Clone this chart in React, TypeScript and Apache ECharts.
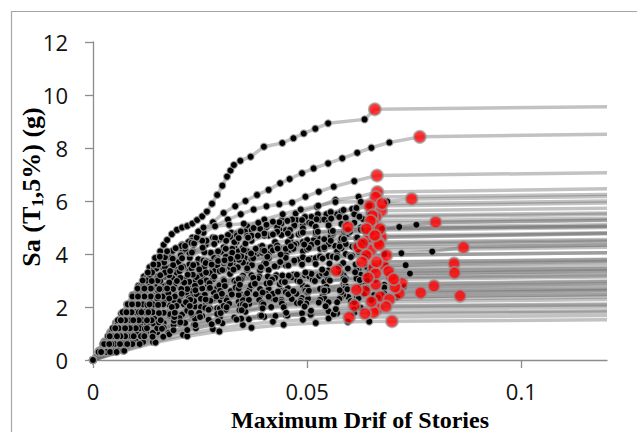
import React, { useEffect, useRef } from "react";
import * as echarts from "echarts";

// Each record: [maximum drift of stories (x1000), Sa(T1,5%) in g].
// Second-to-last point = collapse (red marker); last point = flat-line end.
const rec01 = [[0,0],[1.3,0.35],[2.6,0.7],[4,1.05],[5.3,1.4],[6.6,1.75],[7.9,2.1],[9.2,2.45],[10.6,2.8],[11.9,3.15],[13.2,3.5],[14.5,3.85],[15.7,4.1],[16.5,4.35],[17.3,4.53],[18.4,4.75],[19.6,4.91],[20.8,5.0],[22,5.06],[23.2,5.15],[24.3,5.28],[25.5,5.42],[26.6,5.6],[27.8,5.9],[29,6.23],[30.2,6.58],[31.3,6.92],[32.1,7.15],[32.9,7.36],[34.4,7.52],[36.8,7.67],[39.9,8.05],[44.2,8.19],[46.8,8.37],[49.2,8.55],[51.9,8.73],[54.9,8.93],[63.4,9.08],[65.8,9.46],[120,9.56]];
const rec02 = [[0,0],[1.4,0.35],[2.8,0.7],[4.2,1.05],[5.6,1.4],[7,1.75],[8.4,2.1],[9.8,2.45],[11.2,2.8],[12.7,3.15],[14.2,3.45],[16,3.75],[18.3,4.05],[20.8,4.35],[23.2,4.62],[25.6,4.9],[28,5.2],[30.5,5.55],[33.2,5.8],[35.6,6.0],[38.3,6.23],[41,6.42],[43.7,6.67],[45.9,6.83],[48.8,7.05],[51.5,7.23],[54.9,7.42],[58.2,7.61],[61.7,7.82],[65,8.01],[69.2,8.21],[76.3,8.42],[120,8.52]];
const rec03 = [[0,0],[1.6,0.35],[3.2,0.7],[4.8,1.05],[6.4,1.4],[8,1.75],[9.6,2.1],[11.2,2.45],[12.8,2.8],[14.5,3.15],[16.3,3.5],[18.2,3.85],[20.5,4.2],[23,4.5],[25.8,4.8],[28.5,5.05],[31.5,5.3],[34.5,5.5],[37.5,5.68],[40.5,5.8],[43.5,5.88],[46.5,5.94],[49.6,6.16],[52.7,6.35],[56.2,6.54],[61,6.75],[66.3,6.96],[120,7.07]];
const rec04 = [[0,0],[1.7,0.35],[3.4,0.7],[5.1,1.05],[6.8,1.4],[8.5,1.75],[10.2,2.1],[12,2.45],[13.8,2.8],[15.8,3.15],[18,3.5],[20.5,3.82],[23.3,4.1],[26.3,4.35],[29.5,4.55],[33,4.7],[36.5,4.82],[40.2,4.98],[44.1,5.28],[47.3,5.53],[52.3,5.78],[56.6,6.04],[62,6.16],[66.4,6.34],[120,6.46]];
const rec05 = [[0,0],[1.9,0.35],[3.8,0.7],[5.7,1.05],[7.6,1.4],[9.6,1.75],[11.6,2.1],[13.8,2.45],[16.2,2.8],[19,3.15],[22,3.45],[25.5,3.75],[29,4.0],[33,4.25],[37,4.5],[41,4.7],[45,4.9],[49,5.1],[53,5.3],[57,5.5],[60.5,5.7],[62.5,5.95],[66,6.15],[120,6.25]];
const rec06 = [[0,0],[1.8,0.35],[3.6,0.7],[5.4,1.05],[7.2,1.4],[9,1.75],[10.9,2.1],[12.9,2.45],[15,2.8],[17.3,3.15],[19.8,3.5],[22.6,3.85],[25.6,4.2],[28.8,4.5],[32.3,4.8],[36,5.05],[40,5.3],[44.3,5.5],[48.5,5.68],[52.6,5.82],[56.6,5.96],[62.5,5.97],[68.7,5.98],[74.4,6.08],[120,6.17]];
const rec07 = [[0,0],[1.7,0.35],[3.3,0.7],[5,1.05],[6.7,1.4],[8.3,1.75],[10,2.1],[11.7,2.45],[13.3,2.8],[15,3.15],[16.8,3.5],[18.8,3.8],[21,4.1],[23.5,4.35],[26.5,4.5],[30,4.62],[33.5,4.75],[37,4.9],[40.5,5.02],[44,5.15],[47.5,5.28],[51,5.4],[54.5,5.5],[58,5.6],[61.5,5.7],[64.6,5.81],[120,5.92]];
const rec08 = [[0,0],[2.1,0.35],[4.1,0.7],[6.2,1.05],[8.2,1.4],[10.3,1.75],[12.4,2.1],[14.5,2.45],[16.8,2.8],[19.2,3.15],[21.8,3.5],[24.6,3.8],[27.5,4.05],[30.5,4.25],[33.5,4.45],[36.5,4.62],[40,4.78],[43.5,4.92],[47,5.05],[50.5,5.18],[54,5.3],[57.5,5.4],[61,5.5],[64.5,5.56],[67.3,5.63],[120,5.73]];
const rec09 = [[0,0],[1.8,0.35],[3.5,0.7],[5.3,1.05],[7,1.4],[8.8,1.75],[10.6,2.1],[12.5,2.45],[14.5,2.8],[16.8,3.15],[19.5,3.4],[22.5,3.6],[25.8,3.75],[29,3.85],[31.8,3.95],[32.5,4.2],[33,4.45],[33.6,4.7],[35.5,4.85],[39,4.95],[43,5.02],[47,5.08],[51,5.14],[55,5.2],[59,5.26],[63,5.32],[66,5.4],[120,5.5]];
const rec10 = [[0,0],[2.3,0.35],[4.7,0.7],[7,1.05],[9.3,1.4],[11.7,1.75],[14,2.1],[16.5,2.45],[19.2,2.8],[22,3.1],[25,3.35],[28.2,3.55],[31.5,3.72],[35,3.88],[38.5,4.02],[42,4.15],[45.5,4.3],[49,4.45],[52.5,4.6],[56,4.75],[59.5,4.88],[62.5,5.0],[65.4,5.16],[120,5.26]];
const rec11 = [[0,0],[2.5,0.35],[5,0.7],[7.5,1.05],[10,1.4],[12.5,1.75],[15.2,2.1],[18,2.45],[21,2.8],[24.3,3.1],[27.8,3.38],[31.5,3.62],[35.5,3.85],[39.5,4.05],[43.5,4.22],[47.5,4.38],[51.5,4.52],[55.5,4.65],[59.5,4.76],[63.5,4.86],[67.5,4.95],[71.5,5.02],[75.5,5.1],[80,5.2],[120,5.28]];
const rec12 = [[0,0],[2.7,0.35],[5.4,0.7],[8.1,1.05],[10.8,1.4],[13.5,1.75],[16.3,2.1],[19.2,2.45],[22.3,2.8],[25.6,3.1],[29.2,3.35],[33,3.55],[37,3.72],[41,3.87],[45,4.0],[49,4.1],[53,4.2],[56.5,4.3],[57.9,4.46],[58.3,4.65],[58.7,4.84],[59.5,5.02],[120,5.1]];
const rec13 = [[0,0],[2.9,0.35],[5.8,0.7],[8.8,1.05],[11.7,1.4],[14.6,1.75],[17.6,2.1],[20.8,2.45],[24.2,2.78],[28,3.05],[32,3.25],[36,3.4],[39.5,3.5],[40.5,3.75],[41,4.0],[41.5,4.25],[42.5,4.45],[46,4.5],[50,4.53],[54,4.56],[58,4.58],[61.5,4.6],[64.6,4.63],[120,4.76]];
const rec14 = [[0,0],[3.5,0.35],[7,0.7],[10.5,1.05],[14,1.4],[17.5,1.75],[21.2,2.1],[25,2.42],[29,2.72],[33,2.98],[37,3.2],[41,3.4],[45,3.58],[49,3.75],[53,3.92],[57,4.1],[60.5,4.28],[64,4.45],[67.3,4.63],[120,4.78]];
const rec15 = [[0,0],[1.9,0.35],[3.9,0.7],[5.8,1.05],[7.8,1.4],[9.7,1.75],[11.7,2.1],[13.8,2.45],[16,2.8],[18.5,3.1],[19.5,3.4],[20,3.7],[20.5,3.95],[22.5,4.05],[26,4.07],[30,4.09],[34,4.1],[38,4.12],[42,4.14],[46,4.16],[50,4.18],[54,4.2],[58,4.22],[62,4.25],[120,4.34]];
const rec16 = [[0,0],[3.2,0.35],[6.4,0.7],[9.5,1.05],[12.7,1.4],[16,1.75],[19.5,2.1],[23.2,2.42],[27,2.7],[31,2.95],[35,3.18],[39,3.38],[43,3.55],[47,3.7],[51,3.82],[55,3.92],[59,4.0],[62,4.08],[64.9,4.15],[120,4.25]];
const rec17 = [[0,0],[2.2,0.35],[4.4,0.7],[6.6,1.05],[8.8,1.4],[11,1.75],[13.3,2.1],[15.8,2.45],[18.5,2.78],[21.5,3.05],[25,3.25],[28.5,3.4],[32,3.5],[36,3.58],[40,3.65],[44,3.72],[48,3.78],[52,3.84],[56,3.9],[60,3.94],[64,3.97],[68,4.0],[72,4.03],[79.2,4.09],[86.5,4.25],[120,4.33]];
const rec18 = [[0,0],[3.9,0.35],[7.8,0.7],[11.7,1.05],[15.6,1.4],[19.6,1.72],[23.8,2.02],[28,2.3],[32.5,2.55],[37,2.78],[41.5,2.98],[46,3.15],[50.5,3.28],[55,3.38],[59.5,3.45],[64,3.5],[68.5,3.55],[73,3.58],[84.3,3.64],[120,3.72]];
const rec19 = [[0,0],[4.7,0.35],[9.3,0.7],[14,1.05],[18.8,1.38],[23.8,1.68],[29,1.95],[34,2.2],[39,2.42],[44,2.62],[49,2.8],[54,2.95],[59,3.07],[64,3.16],[69,3.22],[74,3.26],[84.4,3.29],[120,3.38]];
const rec20 = [[0,0],[2.7,0.35],[5.4,0.7],[8.1,1.05],[10.8,1.4],[13.5,1.75],[16.4,2.08],[19.5,2.38],[23,2.62],[26.8,2.82],[30.8,2.98],[34.8,3.08],[38.8,3.15],[42.8,3.2],[46.8,3.22],[50.8,3.25],[54,3.3],[56.8,3.37],[120,3.45]];
const rec21 = [[0,0],[4.1,0.35],[8.2,0.7],[12.4,1.05],[16.5,1.4],[20.8,1.72],[25.2,2.0],[29.8,2.25],[34.4,2.48],[39,2.68],[43.6,2.86],[48.2,3.02],[52.8,3.17],[57.4,3.3],[62,3.42],[65,3.5],[67.8,3.58],[120,3.68]];
const rec22 = [[0,0],[2.5,0.35],[5,0.7],[7.5,1.05],[10,1.4],[12.6,1.75],[15.3,2.08],[18.3,2.35],[21.8,2.55],[25.5,2.7],[29.5,2.82],[33.5,2.92],[37.5,3.0],[41.5,3.08],[45.5,3.14],[49.5,3.2],[53.5,3.26],[57.5,3.32],[61.5,3.4],[65.5,3.47],[120,3.56]];
const rec23 = [[0,0],[5,0.35],[10,0.7],[15,1.05],[20.2,1.38],[25.5,1.66],[31,1.9],[36.5,2.12],[42,2.32],[47.5,2.5],[53,2.68],[58.5,2.85],[64,3.0],[69.6,3.15],[120,3.25]];
const rec24 = [[0,0],[1.8,0.35],[3.7,0.7],[5.5,1.05],[7.4,1.4],[9.3,1.75],[11.3,2.1],[13.5,2.42],[16,2.68],[19,2.85],[22.5,2.95],[26.5,3.0],[30.5,3.03],[34.5,3.05],[38.5,3.08],[42.5,3.1],[46.5,3.12],[50.5,3.15],[54.5,3.17],[58.5,3.2],[62.5,3.22],[66,3.26],[120,3.33]];
const rec25 = [[0,0],[3.5,0.35],[7,0.7],[10.5,1.05],[14.1,1.38],[17.9,1.68],[22,1.92],[26.4,2.12],[31,2.28],[35.6,2.42],[40.2,2.52],[44.8,2.6],[49.4,2.66],[54,2.72],[58.6,2.77],[62.5,2.81],[66,2.85],[120,2.95]];
const rec26 = [[0,0],[2.2,0.35],[4.4,0.7],[6.6,1.05],[8.8,1.4],[11.1,1.72],[13.7,2.0],[16.8,2.22],[20.3,2.38],[24.2,2.48],[28.2,2.55],[32.2,2.6],[36.5,2.64],[41,2.68],[45.5,2.71],[50,2.74],[54.5,2.76],[59,2.79],[63.5,2.81],[68,2.84],[72.1,2.89],[120,2.98]];
const rec27 = [[0,0],[5.8,0.35],[11.7,0.7],[17.6,1.03],[23.6,1.33],[29.6,1.6],[35.6,1.82],[41.6,2.0],[47.6,2.15],[53.6,2.28],[59.6,2.38],[65.6,2.45],[71.5,2.52],[120,2.6]];
const rec28 = [[0,0],[2.9,0.35],[5.8,0.7],[8.8,1.05],[11.8,1.38],[15,1.66],[18.6,1.9],[22.5,2.08],[26.8,2.22],[31.2,2.33],[35.8,2.42],[40.4,2.5],[45,2.56],[49.6,2.61],[54.2,2.65],[58.8,2.69],[63.4,2.72],[68,2.74],[72.6,2.76],[79.6,2.79],[120,2.88]];
const rec29 = [[0,0],[3.9,0.35],[7.8,0.7],[11.7,1.04],[15.8,1.33],[20.2,1.58],[24.8,1.78],[29.6,1.94],[34.4,2.07],[39.2,2.18],[44,2.27],[48.8,2.34],[53.6,2.4],[58.4,2.45],[63.2,2.48],[68,2.51],[76.5,2.54],[120,2.62]];
const rec30 = [[0,0],[1.8,0.35],[3.5,0.7],[5.3,1.05],[7,1.4],[8.9,1.73],[11,2.0],[13.6,2.15],[16.6,2.2],[20,2.22],[23.6,2.23],[27.4,2.24],[31.2,2.25],[35,2.26],[38.8,2.27],[42.6,2.28],[46.4,2.3],[50.2,2.31],[54,2.33],[57.8,2.34],[61.6,2.36],[67.1,2.39],[120,2.46]];
const rec31 = [[0,0],[4.7,0.35],[9.3,0.7],[14,1.03],[18.8,1.32],[23.8,1.56],[29,1.74],[34.2,1.88],[39.4,1.98],[44.6,2.06],[49.8,2.13],[55,2.18],[60.2,2.22],[65,2.26],[69.2,2.29],[120,2.38]];
const rec32 = [[0,0],[2.7,0.35],[5.4,0.7],[8.1,1.04],[11,1.33],[14.3,1.56],[18,1.73],[22,1.86],[26.2,1.96],[30.5,2.04],[35,2.1],[39.5,2.15],[44,2.2],[48.5,2.24],[53,2.27],[57.5,2.3],[62,2.33],[66.5,2.35],[71,2.37],[85.7,2.42],[120,2.48]];
const rec33 = [[0,0],[5.8,0.35],[11.7,0.68],[17.8,0.97],[24,1.2],[30.2,1.39],[36.4,1.54],[42.6,1.66],[48.8,1.76],[55,1.84],[61,1.9],[66.4,1.94],[120,2.0]];
const rec34 = [[0,0],[7,0.35],[14,0.68],[21,0.95],[28,1.16],[35,1.32],[42,1.44],[49,1.52],[55,1.57],[59.8,1.61],[120,1.68]];
const rec35 = [[0,0],[7.3,0.35],[14.6,0.66],[22,0.9],[29.5,1.08],[37,1.22],[44.5,1.33],[52,1.4],[59.5,1.44],[64.5,1.45],[69.8,1.46],[120,1.52]];
const rec36 = [[0,0],[1.5,0.35],[2.9,0.7],[4.4,1.05],[5.8,1.4],[7.3,1.75],[8.8,2.1],[10.2,2.45],[11.7,2.8],[13.2,3.15],[14.8,3.45],[16.6,3.68],[18.6,3.82],[20.5,3.95],[21.5,4.2],[22.3,4.45],[24.5,4.58],[28,4.62],[32,4.65],[36,4.68],[40,4.7],[44,4.72],[48,4.74],[52,4.76],[56,4.8],[60,4.84],[65,4.9],[120,5.0]];
const rec37 = [[0,0],[1.6,0.35],[3.2,0.7],[4.8,1.05],[6.4,1.4],[8,1.75],[9.6,2.1],[11.2,2.45],[12.9,2.78],[14.8,3.05],[17,3.22],[19.5,3.3],[22.5,3.35],[25.5,3.42],[27.5,3.6],[28.3,3.85],[29.2,4.1],[31,4.2],[35,4.23],[39,4.26],[43,4.28],[47,4.3],[51,4.32],[55,4.35],[59,4.38],[63,4.42],[66.5,4.45],[120,4.55]];
const rec38 = [[0,0],[2.1,0.35],[4.1,0.7],[6.2,1.05],[8.2,1.4],[10.4,1.72],[12.8,1.98],[15.6,2.15],[18.8,2.26],[22.4,2.33],[26.2,2.38],[30,2.42],[34,2.45],[38,2.48],[42,2.5],[46,2.52],[50,2.54],[54,2.56],[58,2.57],[63.5,2.6],[120,2.68]];
const rec39 = [[0,0],[3.9,0.35],[7.8,0.68],[12,0.98],[16.5,1.22],[21.5,1.4],[27,1.52],[33,1.6],[39,1.66],[45,1.7],[51,1.73],[57,1.76],[61,1.78],[65.5,1.8],[120,1.86]];
const rec40 = [[0,0],[1.8,0.35],[3.5,0.7],[5.3,1.05],[7,1.4],[8.8,1.75],[10.7,2.08],[12.8,2.38],[15.2,2.62],[18,2.8],[21,2.92],[24,3.0],[25.3,3.25],[25.8,3.5],[26.5,3.72],[29,3.78],[33,3.8],[37,3.82],[41,3.84],[45,3.86],[49,3.88],[53,3.9],[57,3.92],[60.5,3.93],[63.8,3.95],[120,4.05]];
const rec41 = [[0,0],[1.3,0.3],[2.5,0.6],[3.8,0.9],[5,1.2],[6.3,1.5],[7.5,1.8],[8.8,2.1],[10,2.4],[11.3,2.7],[12.5,3.0],[13.8,3.3],[15.2,3.6],[16.8,3.88],[18.6,4.12],[20.6,4.3],[23,4.42],[25.5,4.5],[28.5,4.6],[31.5,4.72],[34.5,4.85],[37.5,4.98],[40.5,5.1],[43.5,5.2],[46.5,5.3],[49.5,5.4],[52.5,5.5],[55.5,5.58],[58.5,5.66],[61.5,5.74],[64.5,5.82],[67.5,5.9],[120,6.0]];
const rec42 = [[0,0],[1.5,0.3],[3,0.6],[4.5,0.9],[6,1.2],[7.5,1.5],[9,1.8],[10.5,2.1],[12.1,2.4],[13.8,2.7],[15.7,2.98],[17.8,3.2],[20.2,3.35],[23,3.45],[26,3.52],[29,3.58],[32,3.63],[35,3.68],[37,3.8],[37.5,4.0],[38,4.2],[39.5,4.3],[43,4.32],[47,4.34],[51,4.35],[55,4.37],[59,4.38],[63,4.4],[120,4.5]];
const rec43 = [[0,0],[2,0.3],[4,0.6],[6,0.9],[8,1.2],[10,1.5],[12,1.8],[14.1,2.1],[16.3,2.4],[18.7,2.68],[21.3,2.92],[24.2,3.12],[27.3,3.28],[30.5,3.4],[33.8,3.5],[37.1,3.58],[40.4,3.64],[43.7,3.7],[47,3.75],[50.3,3.79],[53.6,3.83],[56.9,3.86],[60.2,3.89],[63.5,3.91],[68.5,3.95],[120,4.05]];
const rec44 = [[0,0],[2.7,0.3],[5.5,0.6],[8.2,0.9],[10.9,1.2],[13.7,1.5],[16.5,1.78],[19.5,2.04],[22.7,2.27],[26.1,2.46],[29.7,2.61],[33.3,2.73],[36.9,2.82],[40.5,2.89],[44.1,2.95],[47.7,3.0],[51.3,3.03],[54.9,3.05],[58.5,3.07],[61.5,3.08],[64.2,3.1],[120,3.18]];
const rec45 = [[0,0],[1.2,0.3],[2.3,0.6],[3.5,0.9],[4.6,1.2],[5.8,1.5],[6.9,1.8],[8.1,2.1],[9.2,2.4],[10.4,2.7],[11.6,3.0],[12.8,3.3],[14.1,3.6],[15.6,3.9],[17.3,4.1],[19.3,4.22],[21.5,4.3],[23.6,4.4],[24.2,4.62],[24.6,4.85],[25.8,5.0],[28.5,5.05],[31.8,5.1],[35.2,5.14],[38.6,5.18],[42,5.22],[45.4,5.25],[48.8,5.28],[52.2,5.31],[55.6,5.34],[59,5.37],[62.2,5.41],[65.2,5.45],[120,5.55]];
const rec46 = [[0,0],[3.7,0.3],[7.5,0.6],[11.2,0.9],[15,1.2],[18.9,1.48],[23,1.72],[27.3,1.94],[31.8,2.12],[36.4,2.27],[41,2.39],[45.6,2.48],[50.2,2.56],[54.8,2.62],[59.4,2.67],[64,2.71],[70.5,2.75],[120,2.83]];
const rec47 = [[0,0],[1.7,0.3],[3.3,0.6],[5,0.9],[6.7,1.2],[8.3,1.5],[10,1.8],[11.7,2.1],[13.5,2.4],[15.5,2.68],[17.8,2.92],[20.4,3.1],[23.3,3.22],[26.4,3.3],[29.6,3.36],[32.8,3.41],[36,3.46],[39.2,3.5],[42.4,3.54],[45.6,3.57],[48.8,3.6],[52,3.62],[55.2,3.64],[58.4,3.66],[62.8,3.7],[120,3.78]];
const rec48 = [[0,0],[2.3,0.3],[4.6,0.6],[6.9,0.9],[9.2,1.2],[11.5,1.5],[13.9,1.8],[16.4,2.1],[19.1,2.4],[22,2.68],[25.1,2.94],[28.3,3.15],[30.2,3.4],[30.6,3.65],[31,3.9],[32.5,4.05],[36,4.1],[39.6,4.14],[43.2,4.17],[46.8,4.2],[50.4,4.23],[54,4.25],[57.6,4.28],[61.2,4.3],[66.8,4.35],[120,4.45]];
const rec49 = [[0,0],[3,0.3],[6,0.6],[9,0.9],[12.1,1.18],[15.4,1.42],[19,1.62],[22.9,1.78],[27,1.9],[31.2,1.99],[35.5,2.05],[39.8,2.1],[44.1,2.13],[48.4,2.15],[52.7,2.17],[57,2.18],[61,2.19],[65,2.2],[120,2.28]];
const rec50 = [[0,0],[4.6,0.3],[9.2,0.6],[13.9,0.88],[18.8,1.12],[23.9,1.32],[29.2,1.46],[34.6,1.56],[40,1.63],[45.4,1.68],[50.8,1.71],[56.2,1.73],[63.5,1.75],[120,1.81]];
const rec51 = [[0,0],[1.4,0.3],[2.7,0.6],[4.1,0.9],[5.5,1.2],[6.8,1.5],[8.2,1.8],[9.6,2.1],[11,2.4],[12.5,2.7],[14.1,2.98],[16,3.22],[18.3,3.4],[21,3.52],[24.2,3.6],[27.5,3.66],[30.8,3.72],[34.1,3.78],[37.4,3.84],[40.7,3.9],[43.8,3.98],[45,4.2],[45.5,4.45],[46.2,4.68],[48.5,4.78],[52,4.82],[55.5,4.86],[59,4.89],[62.5,4.92],[67,4.95],[120,5.05]];
const rec52 = [[0,0],[1.8,0.3],[3.5,0.6],[5.3,0.9],[7.1,1.2],[8.8,1.5],[10.7,1.8],[12.7,2.08],[15,2.32],[17.6,2.52],[20.6,2.68],[23.8,2.8],[27.2,2.9],[30.6,2.98],[34,3.05],[37.4,3.1],[40.8,3.15],[44.2,3.19],[47.6,3.22],[51,3.25],[54.4,3.27],[57.8,3.29],[61.2,3.31],[64.6,3.33],[69,3.35],[120,3.43]];
const rec53 = [[0,0],[2.5,0.3],[5,0.6],[7.5,0.9],[10,1.2],[12.6,1.5],[15.4,1.77],[18.4,2.0],[21.7,2.18],[25.2,2.31],[28.8,2.4],[32.4,2.47],[36,2.52],[39.6,2.55],[43.2,2.58],[46.8,2.6],[50.4,2.61],[54,2.62],[57.6,2.63],[61.5,2.65],[120,2.72]];
const rec54 = [[0,0],[3.2,0.3],[6.3,0.6],[9.5,0.9],[12.6,1.2],[15.8,1.5],[19.1,1.78],[22.6,2.04],[26.3,2.28],[30.1,2.5],[34,2.7],[37.9,2.88],[41.8,3.04],[45.7,3.18],[49.6,3.3],[53.5,3.41],[57.4,3.51],[61.3,3.6],[66.2,3.7],[120,3.8]];
const rec55 = [[0,0],[1.5,0.3],[3,0.6],[4.5,0.9],[6,1.2],[7.5,1.5],[9,1.8],[10.5,2.1],[12,2.4],[13.5,2.7],[15.1,3.0],[16.8,3.3],[18.7,3.58],[20.8,3.84],[23.1,4.06],[25.6,4.24],[28.3,4.38],[31.1,4.5],[34,4.6],[37,4.69],[40,4.77],[43,4.84],[46,4.91],[49,4.97],[52,5.03],[55,5.08],[58,5.13],[61,5.18],[64.8,5.25],[120,5.35]];
const rec56 = [[0,0],[4,0.3],[8,0.6],[12,0.9],[16.1,1.18],[20.4,1.42],[25,1.62],[29.8,1.77],[34.7,1.88],[39.6,1.95],[44.5,1.99],[49.4,2.02],[54.3,2.03],[61,2.05],[120,2.11]];
const rec57 = [[0,0],[2.1,0.3],[4.3,0.6],[6.4,0.9],[8.6,1.2],[10.7,1.5],[12.9,1.8],[15.2,2.08],[17.8,2.32],[20.7,2.5],[23.9,2.63],[27.3,2.72],[30.8,2.79],[34.3,2.84],[37.8,2.88],[41.3,2.91],[44.8,2.94],[48.3,2.96],[51.8,2.98],[55.3,3.0],[58.8,3.01],[62.3,3.02],[66,3.03],[70.2,3.05],[120,3.13]];
const rec58 = [[0,0],[1.3,0.3],[2.6,0.6],[3.9,0.9],[5.2,1.2],[6.5,1.5],[7.8,1.8],[9.1,2.1],[10.5,2.4],[12,2.7],[13.7,2.98],[15.7,3.2],[18,3.36],[20.6,3.48],[23.4,3.58],[26.3,3.66],[29.2,3.74],[32.1,3.82],[34.6,3.92],[35.2,4.15],[35.6,4.4],[36.2,4.62],[38.5,4.7],[42,4.74],[45.5,4.78],[49,4.81],[52.5,4.84],[56,4.87],[59.5,4.9],[63.8,4.95],[120,5.05]];
const rec59 = [[0,0],[5.5,0.3],[10.9,0.6],[16.4,0.88],[22,1.13],[27.7,1.35],[33.5,1.53],[39.3,1.67],[45.1,1.78],[50.9,1.86],[56.7,1.92],[62.5,1.97],[68.4,2.02],[120,2.08]];
const rec60 = [[0,0],[1.9,0.3],[3.8,0.6],[5.6,0.9],[7.5,1.2],[9.4,1.5],[11.3,1.8],[13.2,2.1],[15.2,2.4],[17.3,2.7],[19.6,2.98],[22.1,3.22],[24.8,3.42],[27.7,3.6],[30.7,3.76],[33.8,3.9],[36.9,4.02],[40,4.12],[43.1,4.21],[46.2,4.29],[49.3,4.36],[52.4,4.43],[55.5,4.5],[58.6,4.56],[61.7,4.62],[65.8,4.7],[120,4.8]];

const records = [rec01, rec02, rec03, rec04, rec05, rec06, rec07, rec08, rec09, rec10,
  rec11, rec12, rec13, rec14, rec15, rec16, rec17, rec18, rec19, rec20,
  rec21, rec22, rec23, rec24, rec25, rec26, rec27, rec28, rec29, rec30,
  rec31, rec32, rec33, rec34, rec35, rec36, rec37, rec38, rec39, rec40,
  rec41, rec42, rec43, rec44, rec45, rec46, rec47, rec48, rec49, rec50,
  rec51, rec52, rec53, rec54, rec55, rec56, rec57, rec58, rec59, rec60];

const xTickValues = [0, 0.05, 0.1];
const xMax = 0.12;
const yMin = 0;
const yMax = 12;
const yInterval = 2;
const xTitle = "Maximum Drif of Stories";

const toXY = (p: number[]) => [p[0] / 1000, p[1]];

export default function App() {
  const ref = useRef<HTMLDivElement>(null);
  useEffect(() => {
    if (!ref.current) return;
    const chart = echarts.init(ref.current, undefined, { renderer: "svg" });
    const lineSeries = records.map((rec) => ({
      type: "line",
      data: rec.map((p, j) => (j >= rec.length - 2 ? { value: toXY(p), symbol: "none" } : toXY(p))),
      symbol: "circle",
      symbolSize: 7,
      showSymbol: true,
      lineStyle: { color: "rgba(110,110,110,0.42)", width: 3.5 },
      itemStyle: { color: "#000", borderColor: "rgba(160,160,160,0.8)", borderWidth: 1.2 },
      silent: true,
      emphasis: { disabled: true },
      z: 2,
    }));
    const collapse = records.map((rec) => toXY(rec[rec.length - 2]));
    const labelFont = { fontFamily: "'Open Sans', sans-serif", fontSize: 22, color: "#111", lineHeight: 22 };
    chart.setOption({
      animation: false,
      backgroundColor: "#fff",
      grid: { left: 93, right: 30, top: 42, bottom: 72, containLabel: false },
      xAxis: {
        type: "value",
        min: 0,
        max: xMax,
        splitLine: { show: false },
        axisLine: { show: true, onZero: false, lineStyle: { color: "#8c8c8c", width: 1.3 } },
        axisTick: { show: true, length: 8, customValues: xTickValues, lineStyle: { color: "#8c8c8c", width: 1.3 } },
        axisLabel: { ...labelFont, margin: 20, customValues: xTickValues, formatter: (v: number) => String(v) },
      },
      yAxis: {
        type: "value",
        min: yMin,
        max: yMax,
        interval: yInterval,
        splitLine: { show: false },
        axisLine: { show: true, lineStyle: { color: "#8c8c8c", width: 1.3 } },
        axisTick: { show: true, length: 8, lineStyle: { color: "#8c8c8c", width: 1.3 } },
        axisLabel: { ...labelFont, margin: 25 },
      },
      graphic: [
        {
          type: "rect",
          shape: { x: 11.5, y: 11.5, width: 700, height: 500 },
          style: { fill: "none", stroke: "#a6a6a6", lineWidth: 1.2 },
          silent: true,
        },
        {
          type: "text",
          x: 31,
          y: 187,
          rotation: Math.PI / 2,
          style: {
            text: "Sa (T{sub|1},5%) (g)",
            fontFamily: "'Liberation Serif', 'Times New Roman', serif",
            fontWeight: "bold",
            fontSize: 26,
            lineHeight: 30,
            fill: "#000",
            textAlign: "center",
            textVerticalAlign: "middle",
            rich: {
              sub: {
                fontFamily: "'Liberation Serif', 'Times New Roman', serif",
                fontWeight: "bold",
                fontSize: 17,
                lineHeight: 17,
                verticalAlign: "bottom",
                fill: "#000",
              },
            },
          },
          silent: true,
        },
        {
          type: "text",
          x: 360,
          y: 419.5,
          style: {
            text: xTitle,
            fontFamily: "'Liberation Serif', 'Times New Roman', serif",
            fontWeight: "bold",
            fontSize: 24,
            lineHeight: 24,
            fill: "#000",
            textAlign: "center",
            textVerticalAlign: "middle",
          },
          silent: true,
        },
      ],
      series: [
        ...lineSeries,
        {
          type: "scatter",
          data: collapse,
          symbol: "circle",
          symbolSize: 12,
          itemStyle: { color: "#ff0000", borderColor: "rgba(150,150,150,0.85)", borderWidth: 2 },
          silent: true,
          emphasis: { disabled: true },
          z: 3,
        },
      ],
    });
    return () => chart.dispose();
  }, []);
  return <div ref={ref} style={{ position: "absolute", left: 0, top: 0, width: 637, height: 432 }} />;
}
